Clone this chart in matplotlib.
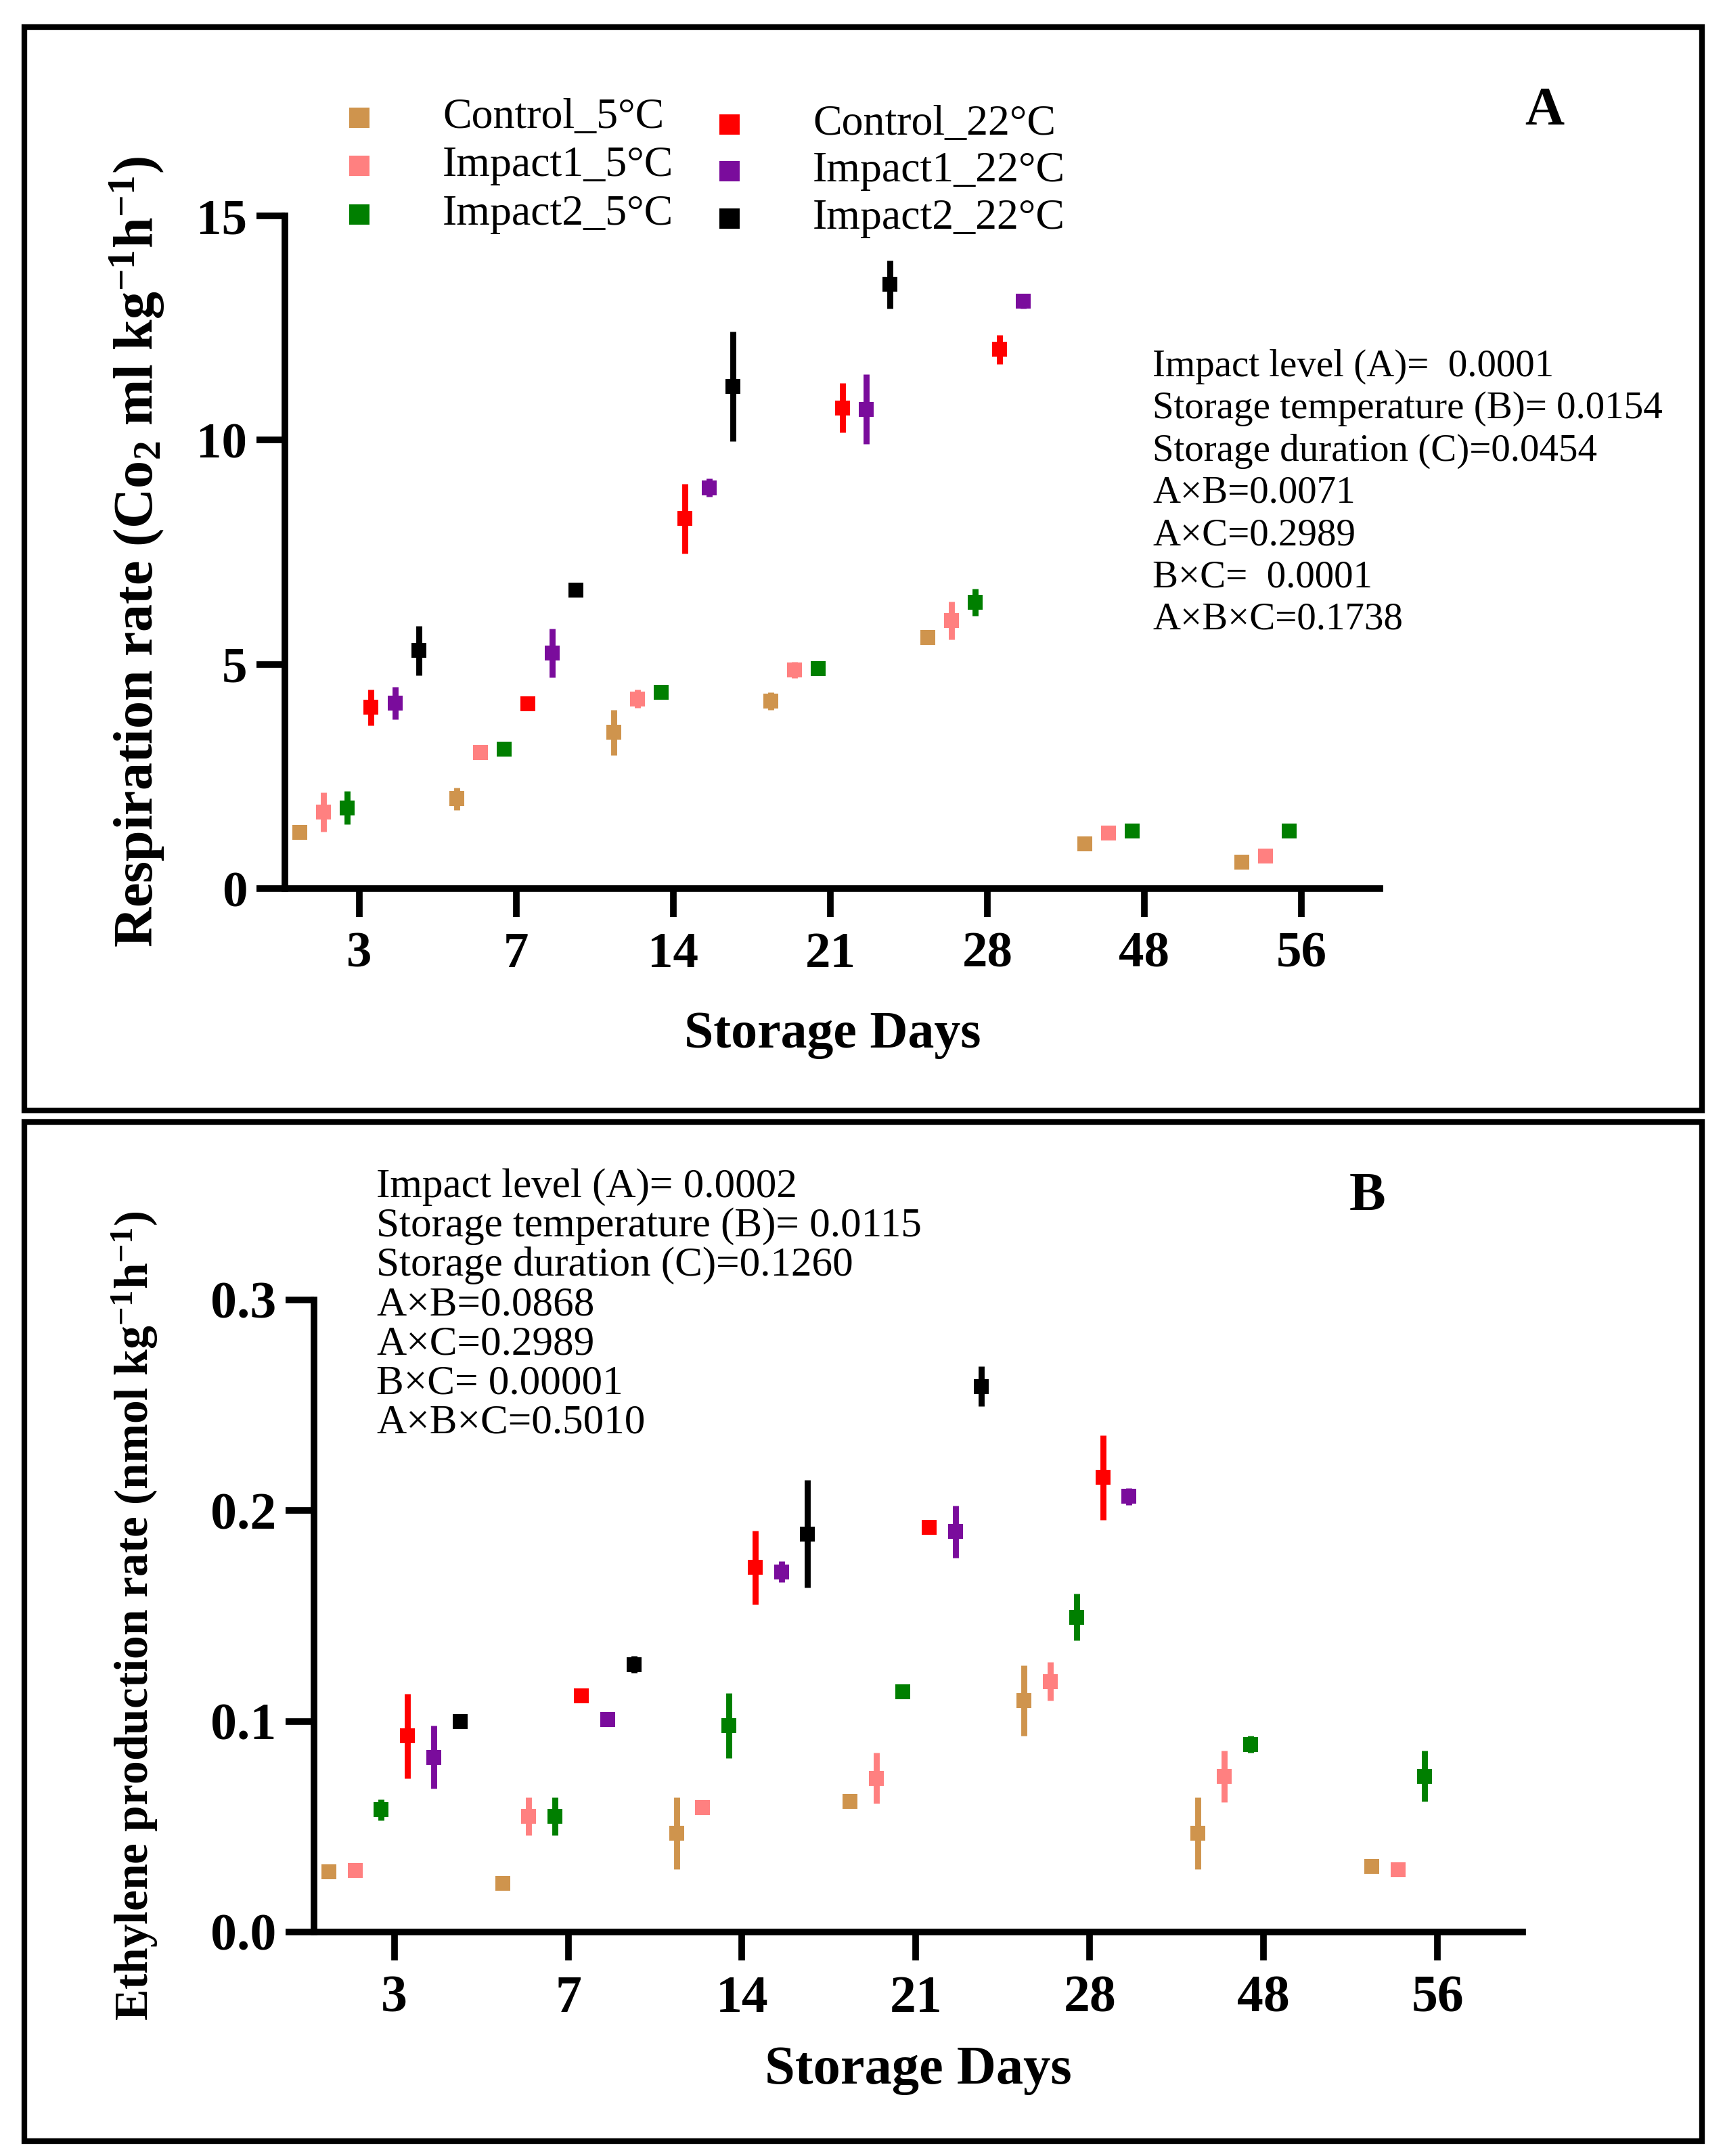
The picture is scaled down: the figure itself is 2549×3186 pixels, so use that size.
import numpy as np
import matplotlib
matplotlib.use('Agg')
import matplotlib.pyplot as plt
from matplotlib.lines import Line2D
from matplotlib.patches import Rectangle

plt.rcParams['font.family'] = ['Liberation Serif', 'DejaVu Serif']
plt.rcParams['mathtext.fontset'] = 'custom'
plt.rcParams['mathtext.rm'] = 'Liberation Serif:bold'
plt.rcParams['mathtext.it'] = 'Liberation Serif:bold'
plt.rcParams['mathtext.bf'] = 'Liberation Serif:bold'

nan = np.nan

days = ['3', '7', '14', '21', '28', '48', '56']
series = ['Control_5°C', 'Impact1_5°C', 'Impact2_5°C',
          'Control_22°C', 'Impact1_22°C', 'Impact2_22°C']
colors = ['#CF944D', '#FF8080', '#007F00', '#FF0000', '#7A0C9C', '#000000']

# respiration rate (panel A)
resp_c5 = [1.25, 2.0, 3.48, 4.18, 5.6, 0.99, 0.59]
resp_c5_err = [0.05, 0.25, 0.5, 0.2, 0.05, 0.0, 0.0]
resp_i1_5 = [1.71, 3.03, 4.23, 4.87, 5.98, 1.23, 0.73]
resp_i1_5_err = [0.44, 0.0, 0.2, 0.18, 0.42, 0.0, 0.0]
resp_i2_5 = [1.8, 3.11, 4.37, 4.91, 6.38, 1.28, 1.28]
resp_i2_5_err = [0.37, 0.15, 0.05, 0.1, 0.3, 0.0, 0.0]
resp_c22 = [4.04, 4.12, 8.25, 10.72, 12.02, nan, nan]
resp_c22_err = [0.4, 0.0, 0.78, 0.55, 0.33, nan, nan]
resp_i1_22 = [4.13, 5.25, 8.94, 10.69, 13.1, nan, nan]
resp_i1_22_err = [0.36, 0.54, 0.2, 0.78, 0.17, nan, nan]
resp_i2_22 = [5.31, 6.65, 11.2, 13.47, nan, nan, nan]
resp_i2_22_err = [0.55, 0.12, 1.22, 0.54, nan, nan, nan]

# ethylene production rate (panel B)
eth_c5 = [0.0286, 0.023, 0.047, 0.062, 0.110, 0.0468, 0.031]
eth_c5_err = [0.002, 0.0, 0.017, 0.0, 0.0167, 0.017, 0.0]
eth_i1_5 = [0.0293, 0.055, 0.059, 0.073, 0.119, 0.074, 0.0296]
eth_i1_5_err = [0.002, 0.009, 0.003, 0.012, 0.009, 0.0122, 0.002]
eth_i2_5 = [0.058, 0.055, 0.098, 0.114, 0.1495, 0.089, 0.074]
eth_i2_5_err = [0.005, 0.009, 0.0155, 0.002, 0.011, 0.004, 0.012]
eth_c22 = [0.093, 0.112, 0.173, 0.192, 0.2157, nan, nan]
eth_c22_err = [0.02, 0.0, 0.0175, 0.0, 0.02, nan, nan]
eth_i1_22 = [0.083, 0.101, 0.171, 0.190, 0.2068, nan, nan]
eth_i1_22_err = [0.015, 0.003, 0.005, 0.0124, 0.004, nan, nan]
eth_i2_22 = [0.100, 0.127, 0.189, 0.259, nan, nan, nan]
eth_i2_22_err = [0.003, 0.004, 0.0256, 0.0095, nan, nan, nan]

stats_a = ['Impact level (A)=  0.0001', 'Storage temperature (B)= 0.0154',
           'Storage duration (C)=0.0454', 'A×B=0.0071', 'A×C=0.2989',
           'B×C=  0.0001', 'A×B×C=0.1738']
stats_b = ['Impact level (A)= 0.0002', 'Storage temperature (B)= 0.0115',
           'Storage duration (C)=0.1260', 'A×B=0.0868', 'A×C=0.2989',
           'B×C= 0.00001', 'A×B×C=0.5010']

W, H = 2549, 3186
fig = plt.figure(figsize=(W / 200, H / 200), dpi=200)


def px(x, y):
    return x / W, 1 - y / H


def draw_panel(ax, vals, errs, ylim, yticks, yticklabels, ylabel, xlim, fs, yfs):
    x0 = np.arange(len(days))
    for k in range(6):
        off = 0.151 * (k - 2.5)
        ax.errorbar(x0 + off, vals[k], yerr=errs[k], fmt='s', color=colors[k],
                    ms=8, mew=0, elinewidth=3.2, capsize=0)
    ax.set_xlim(*xlim)
    ax.set_ylim(*ylim)
    ax.set_xticks(x0)
    ax.set_xticklabels(days)
    ax.set_yticks(yticks)
    ax.set_yticklabels(yticklabels)
    for s in ['top', 'right']:
        ax.spines[s].set_visible(False)
    for s in ['left', 'bottom']:
        ax.spines[s].set_linewidth(3.5)
    ax.tick_params(width=3.5, length=15, labelsize=fs)
    ax.tick_params(axis='x', pad=8)
    ax.tick_params(axis='y', pad=5)
    for t in ax.get_xticklabels() + ax.get_yticklabels():
        t.set_fontweight('bold')
    ax.set_xlabel('Storage Days', fontsize=fs + 1, fontweight='bold')
    ax.set_ylabel(ylabel, fontsize=yfs, fontweight='bold')


# panel A
l, b = px(421, 1313)
r, t = px(2039, 319)
axA = fig.add_axes([l, b, r - l, t - b])
draw_panel(axA,
           [resp_c5, resp_i1_5, resp_i2_5, resp_c22, resp_i1_22, resp_i2_22],
           [resp_c5_err, resp_i1_5_err, resp_i2_5_err, resp_c22_err, resp_i1_22_err, resp_i2_22_err],
           (0, 15), [0, 5, 10, 15], ['0', '5', '10', '15'],
           r'Respiration rate (Co$_2$ ml kg$^{-1}$h$^{-1}$)', (-0.474, 6.5), 27, 29.5)
axA.xaxis.set_label_coords(0.5, -0.182)
axA.yaxis.set_label_coords(-0.108, 0.5)

# panel B
l, b = px(464, 2855)
r, t = px(2250, 1921)
axB = fig.add_axes([l, b, r - l, t - b])
draw_panel(axB,
           [eth_c5, eth_i1_5, eth_i2_5, eth_c22, eth_i1_22, eth_i2_22],
           [eth_c5_err, eth_i1_5_err, eth_i2_5_err, eth_c22_err, eth_i1_22_err, eth_i2_22_err],
           (0, 0.3), [0, 0.1, 0.2, 0.3], ['0.0', '0.1', '0.2', '0.3'],
           r'Ethylene production rate (nmol kg$^{-1}$h$^{-1}$)', (-0.462, 6.49), 28, 25)
axB.xaxis.set_label_coords(0.5, -0.18)
axB.yaxis.set_label_coords(-0.1275, 0.5)

# legend (panel A)
leg_pos = [(531, 654, 174), (531, 654, 245), (531, 654, 317),
           (1078, 1201, 184), (1078, 1201, 253), (1078, 1201, 323)]
for k, (mx, tx, ty) in enumerate(leg_pos):
    xm, ym = px(mx, ty)
    fig.add_artist(Line2D([xm], [ym], marker='s', ms=10.5, mew=0, color=colors[k],
                          linestyle='none', transform=fig.transFigure))
    xt, yt = px(tx, ty)
    fig.text(xt, yt, series[k], fontsize=23, va='center', ha='left')

# statistics text
for i, s in enumerate(stats_a):
    xt, yt = px(1703, 542 + i * 62.3)
    fig.text(xt, yt, s, fontsize=20.5, va='center', ha='left')
for i, s in enumerate(stats_b):
    xt, yt = px(556, 1754 + i * 58.2)
    fig.text(xt, yt, s, fontsize=22, va='center', ha='left')

# panel letters
xt, yt = px(2282, 164)
fig.text(xt, yt, 'A', fontsize=29, fontweight='bold', va='center', ha='center')
xt, yt = px(2021, 1769)
fig.text(xt, yt, 'B', fontsize=29, fontweight='bold', va='center', ha='center')

# panel frames
for (y0, y1) in [(40, 1641), (1658, 3164)]:
    x0f, y0f = px(36, y1)
    x1f, y1f = px(2515, y0)
    fig.add_artist(Rectangle((x0f, y0f), x1f - x0f, y1f - y0f, fill=False,
                             lw=3, edgecolor='black', transform=fig.transFigure))

fig.savefig('out.png', dpi=200, facecolor='white')
